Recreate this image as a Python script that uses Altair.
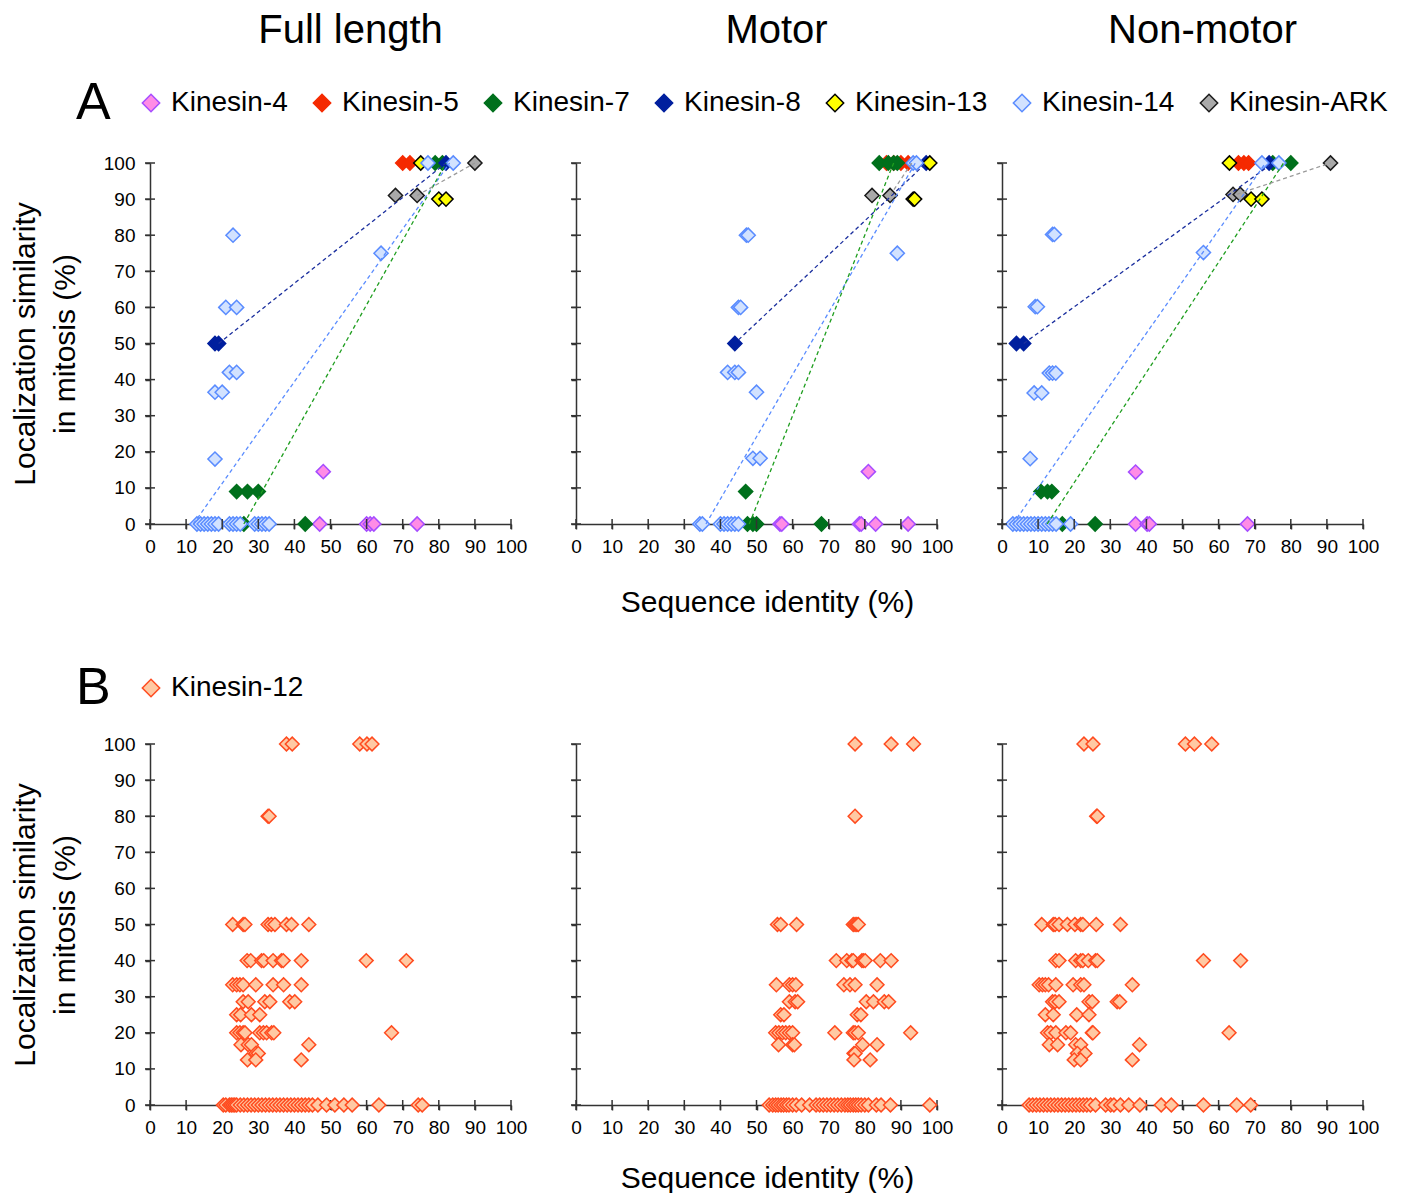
import altair as alt
import pandas as pd

FONT = "Liberation Sans"

FAMILIES = ["Kinesin-4", "Kinesin-5", "Kinesin-7", "Kinesin-8", "Kinesin-13", "Kinesin-14", "Kinesin-ARK"]
FILL_COLORS = ["#ff8ce6", "#f52a00", "#00701c", "#001f9e", "#ffff00", "#d2e2ff", "#a9a9a9"]
STROKE_COLORS = ["#a64dff", "#f52a00", "#00701c", "#001f9e", "#000000", "#5a8cff", "#1a1a1a"]
LINE_FAMILIES = ["Kinesin-7", "Kinesin-8", "Kinesin-14", "Kinesin-ARK"]
LINE_COLORS = ["#1f9e1f", "#1b2f9e", "#5a8cff", "#9a9a9a"]
K12 = ["Kinesin-12"]
K12_FILL = ["#ffc9a3"]
K12_STROKE = ["#ff4b1f"]

TICKS = [0, 10, 20, 30, 40, 50, 60, 70, 80, 90, 100]
COLUMN_TITLES = ["Full length", "Motor", "Non-motor"]
X_TITLE = "Sequence identity (%)"
Y_TITLE = ["Localization similarity", "in mitosis (%)"]

# ---------- Panel A: (sequence identity, localization similarity) ----------
A_FULL = {
    "Kinesin-4": [(48, 14.5), (47, 0), (60, 0), (61, 0), (62, 0), (74, 0)],
    "Kinesin-5": [(70, 100), (72, 100)],
    "Kinesin-7": [(79, 100), (81, 100), (24, 9), (27, 9), (30, 9), (26, 0), (43, 0)],
    "Kinesin-8": [(18, 50), (19, 50), (82, 100)],
    "Kinesin-13": [(75, 100), (80, 90), (82, 90)],
    "Kinesin-14": [(23, 80), (21, 60), (24, 60), (22, 42), (24, 42), (18, 36.5), (20, 36.5),
                   (18, 18), (64, 75), (77, 100), (84, 100),
                   (13, 0), (14, 0), (15, 0), (16, 0), (17, 0), (18, 0), (19, 0),
                   (22, 0), (23, 0), (24, 0), (25, 0),
                   (29, 0), (30, 0), (31, 0), (32, 0), (33, 0)],
    "Kinesin-ARK": [(90, 100), (68, 91), (74, 91)],
}
A_MOTOR = {
    "Kinesin-4": [(81, 14.5), (56.5, 0), (57, 0), (78.5, 0), (79, 0), (83, 0), (92, 0)],
    "Kinesin-5": [(86, 100), (88, 100), (90, 100), (92, 100)],
    "Kinesin-7": [(84, 100), (86.5, 100), (88, 100), (89, 100), (47, 9), (47.5, 0), (49, 0), (50, 0), (68, 0)],
    "Kinesin-8": [(44, 50), (97, 100)],
    "Kinesin-13": [(98, 100), (93.4, 90), (93.8, 90)],
    "Kinesin-14": [(47.2, 80), (47.7, 80), (45, 60), (45.6, 60), (42, 42), (44, 42), (45, 42),
                   (50, 36.5), (49, 18.2), (51, 18.2), (89, 75), (93.4, 100), (94.3, 100),
                   (34.3, 0), (35, 0), (40, 0), (41, 0), (42, 0), (43, 0), (44, 0), (45, 0)],
    "Kinesin-ARK": [(82, 91), (87, 91)],
}
A_NONMOTOR = {
    "Kinesin-4": [(37, 14.4), (37, 0), (40.2, 0), (40.8, 0), (68, 0)],
    "Kinesin-5": [(65.5, 100), (67, 100), (68.3, 100)],
    "Kinesin-7": [(75, 100), (80, 100), (10.8, 9), (12.6, 9), (13.8, 9), (16.7, 0), (25.8, 0)],
    "Kinesin-8": [(4, 50), (6, 50), (74, 100)],
    "Kinesin-13": [(63, 100), (69, 90), (72, 90)],
    "Kinesin-14": [(14, 80.2), (14.5, 80.2), (9.2, 60.2), (9.8, 60.2), (13.1, 41.8), (14, 41.8),
                   (14.9, 41.8), (8.9, 36.3), (11, 36.3), (7.8, 18.1), (55.8, 75.2), (72, 100),
                   (76.7, 100),
                   (3, 0), (4, 0), (5, 0), (6, 0), (7, 0), (8, 0), (9, 0), (10, 0), (11, 0),
                   (12, 0), (13, 0), (14, 0), (15, 0), (19, 0)],
    "Kinesin-ARK": [(91, 100), (64, 91.3), (66, 91.3)],
}
# dashed segments: family, x1, y1, x2, y2
A_FULL_LINES = [("Kinesin-8", 19, 50, 82, 100), ("Kinesin-14", 12, 0, 83, 100),
                ("Kinesin-7", 26, 0, 82, 100), ("Kinesin-ARK", 90, 100, 74, 91)]
A_MOTOR_LINES = [("Kinesin-8", 45, 51, 97, 100), ("Kinesin-14", 36, 0, 94, 100),
                 ("Kinesin-7", 48, 0, 88, 100), ("Kinesin-ARK", 87, 91, 93, 100)]
A_NONMOTOR_LINES = [("Kinesin-8", 6, 50, 75, 100), ("Kinesin-14", 3, 0, 73, 100),
                    ("Kinesin-7", 12.5, 0, 78, 100), ("Kinesin-ARK", 91, 100, 65, 91.3)]

# ---------- Panel B: Kinesin-12, similarity level -> sequence identities ----------
B_FULL = {
    100: [37.8, 39.4, 58.1, 60.1, 61.5],
    80: [32.7, 33],
    50: [22.9, 25.8, 26.3, 32.7, 33.6, 34.6, 37.8, 39.2, 44],
    40: [26.9, 27.9, 30.9, 31.5, 34.1, 36.4, 36.9, 41.9, 59.9, 71],
    33.3: [22.9, 24, 24.9, 25.8, 29.3, 34.1, 37, 41.9],
    28.6: [25.8, 27.2, 31.8, 33.2, 38.7, 40.1],
    25: [24, 25.1, 28.1, 30.4],
    20: [24, 24.9, 25.8, 26.3, 30.4, 31.4, 32.3, 33.7, 34.3, 66.9],
    16.7: [25.2, 27.2, 28.1, 44],
    14.3: [29.3, 30],
    12.5: [27, 29.3, 41.9],
    0: [20.3, 21, 22, 22.5, 23, 23.5, 24, 25, 26, 27, 28, 29, 30, 31, 32, 33, 34, 35, 36, 37,
        38, 39, 40, 41, 42, 43, 44, 45, 46.5, 48.9, 51.2, 53.7, 56, 63.4, 74.3, 75.4],
}
B_MOTOR = {
    100: [77.3, 87.3, 93.5],
    80: [77.3],
    50: [55.8, 56.7, 61.1, 76.8, 77.3, 77.8, 78.2],
    40: [72.1, 75, 76.4, 76.8, 79.2, 79.6, 80.1, 84.3, 87.3],
    33.3: [55.5, 59.1, 60, 60.9, 74.2, 75.9, 77.3, 83.4],
    28.6: [59.1, 60.7, 61.4, 80.4, 82.4, 85.4, 86.6],
    25: [56.7, 57.6, 77.9, 78.9],
    20: [55.3, 56.2, 57.2, 58.1, 59.1, 60, 71.7, 76.8, 77.3, 78.2, 92.7],
    16.7: [56.1, 60, 60.5, 79.4, 83.4],
    14.3: [77, 77.3],
    12.5: [77, 81.5],
    0: [53.5, 54.5, 55.3, 56, 56.8, 57.5, 58.3, 59, 60, 61, 62.5, 64.7, 66.5, 67.5, 68.5, 69.5,
        70.5, 71.5, 72.5, 73.5, 74.5, 75.3, 76, 76.8, 77.5, 78.2, 79, 80, 81, 83.2, 84.5, 87.1, 98],
}
B_NONMOTOR = {
    100: [22.7, 25.2, 50.8, 53.3, 58.1],
    80: [26.2, 26.4],
    50: [11, 14.2, 14.7, 15.8, 18.1, 20.2, 21.8, 22.4, 26.1, 32.8],
    40: [14.9, 15.8, 20.4, 21.8, 22.4, 23.9, 25.9, 26.4, 55.8, 66.1],
    33.3: [10.3, 11.2, 12, 12.9, 14.9, 19.7, 21.8, 22.7, 36.1],
    28.6: [14, 14.7, 15.8, 24.1, 25, 31.9, 32.6],
    25: [12, 14.2, 20.7, 24.1],
    20: [12.6, 13.5, 14.9, 17.7, 19, 25, 25.2, 62.9],
    16.7: [13.1, 15.4, 20.4, 21.8, 38.1],
    14.3: [20.9, 23],
    12.5: [20, 21.8, 36.1],
    0: [7.5, 8.5, 9.5, 10.5, 11.5, 12.5, 13.5, 14.5, 15.5, 16.5, 17.5, 18.5, 19.5, 20.5, 21.5,
        22.5, 23.5, 24.5, 25.9, 28.7, 30.1, 31, 32.8, 35.1, 38.2, 44.1, 46.9, 55.8, 65, 68.9],
}

W, H = 361, 361
AXIS_COLOR = "#333333"


def df_a(d):
    rows = []
    for fam in FAMILIES:
        for x, y in d.get(fam, []):
            rows.append({"x": x, "y": y, "family": fam})
    return pd.DataFrame(rows)


def df_lines(segs):
    rows = []
    for i, (fam, x1, y1, x2, y2) in enumerate(segs):
        rows.append({"x": x1, "y": y1, "family": fam, "seg": i})
        rows.append({"x": x2, "y": y2, "family": fam, "seg": i})
    return pd.DataFrame(rows)


def df_b(d):
    rows = []
    for y, xs in d.items():
        for x in xs:
            rows.append({"x": x, "y": y, "family": "Kinesin-12"})
    return pd.DataFrame(rows)


TICK_DF = pd.DataFrame({"x": TICKS, "y": TICKS})
SCALE = alt.Scale(domain=[0, 100], nice=False, zero=False)


def x_axis(with_title, title_y):
    kw = dict(values=TICKS, labelFontSize=19, labelFont=FONT, labelColor="black",
              tickSize=5, tickWidth=1.5, tickColor=AXIS_COLOR, domainColor=AXIS_COLOR,
              domainWidth=1.5, labelPadding=8, grid=False, labelFlush=False, labelOverlap=False)
    if with_title:
        kw.update(title=X_TITLE, titleFontSize=30, titleFont=FONT, titleFontWeight="normal",
                  titleColor="black", titleX=191, titleY=title_y, titleBaseline="alphabetic",
                  titleAlign="center")
    else:
        kw.update(title=None)
    return alt.Axis(**kw)


def y_axis(with_labels):
    kw = dict(values=TICKS, labelFontSize=19, labelFont=FONT, labelColor="black",
              tickSize=5, tickWidth=1.5, tickColor=AXIS_COLOR, domainColor=AXIS_COLOR,
              domainWidth=1.5, labelPadding=10, grid=False, labelFlush=False, labelOverlap=False)
    if with_labels:
        kw.update(title=Y_TITLE, titleFontSize=30, titleFont=FONT, titleFontWeight="normal",
                  titleColor="black", titleLineHeight=40, titleAngle=270, titleX=-116,
                  titleY=H / 2, titleAlign="center", titleBaseline="alphabetic")
    else:
        kw.update(labels=False, title=None)
    return alt.Axis(**kw)


def legend(letter, legend_y):
    return alt.Legend(title=letter, orient="none", legendX=-74, legendY=legend_y,
                      direction="horizontal", titleOrient="left", titleFontSize=52,
                      titleFont=FONT, titleFontWeight="normal", titleColor="black",
                      titlePadding=26, titleBaseline="middle", labelFontSize=28, labelFont=FONT,
                      labelColor="black", labelOffset=6, labelLimit=400, symbolSize=300,
                      symbolStrokeWidth=1.5, symbolType="diamond", columnPadding=20)


def points(df, fams, fills, strokes, col, row_letter, legend_y, size, title_y):
    fill_kw = dict(scale=alt.Scale(domain=fams, range=fills))
    stroke_kw = dict(scale=alt.Scale(domain=fams, range=strokes))
    if col == 0:
        fill_kw["legend"] = legend(row_letter, legend_y)
        stroke_kw["legend"] = legend(row_letter, legend_y)
    else:
        fill_kw["legend"] = None
        stroke_kw["legend"] = None
    return alt.Chart(df).mark_point(shape="diamond", filled=True, size=size, strokeWidth=1.5,
                                    opacity=1).encode(
        x=alt.X("x:Q", scale=SCALE, axis=x_axis(col == 1, title_y)),
        y=alt.Y("y:Q", scale=SCALE, axis=y_axis(col == 0)),
        fill=alt.Fill("family:N", **fill_kw),
        stroke=alt.Stroke("family:N", **stroke_kw),
    )


def y_ticks(col):
    # inner half of the crossing tick marks on the y axis
    return alt.Chart(TICK_DF).mark_tick(orient="horizontal", size=10, thickness=1.5,
                                        color=AXIS_COLOR, opacity=1).encode(
        x=alt.value(0),
        y=alt.Y("y:Q", scale=SCALE, axis=y_axis(col == 0)),
    )


def x_ticks(axis):
    enc = dict(x=alt.X("x:Q", scale=SCALE, axis=axis), y=alt.value(H))
    return alt.Chart(TICK_DF).mark_tick(orient="vertical", size=10, thickness=1.5,
                                        color=AXIS_COLOR, opacity=1).encode(**enc)


def lines(df, col):
    top_axis = alt.Axis(orient="top", title=COLUMN_TITLES[col], titleFontSize=40, titleFont=FONT,
                        titleFontWeight="normal", titleColor="black", titleX=200, titleY=-121,
                        titleBaseline="alphabetic", titleAlign="center", domain=False,
                        ticks=False, labels=False, grid=False)
    return alt.Chart(df).mark_line(strokeDash=[4, 3], strokeWidth=1.3).encode(
        x=alt.X("x:Q", scale=SCALE, axis=top_axis),
        y=alt.Y("y:Q", scale=SCALE, axis=y_axis(col == 0)),
        color=alt.Color("family:N", scale=alt.Scale(domain=LINE_FAMILIES, range=LINE_COLORS),
                        legend=None),
        detail="seg:N",
    )


panels = []
for col, (pts, segs) in enumerate([(A_FULL, A_FULL_LINES), (A_MOTOR, A_MOTOR_LINES),
                                   (A_NONMOTOR, A_NONMOTOR_LINES)]):
    p = alt.layer(
        points(df_a(pts), FAMILIES, FILL_COLORS, STROKE_COLORS, col, "A", -74, 200, 87),
        lines(df_lines(segs), col),
        x_ticks(None),
        y_ticks(col),
    ).resolve_axis(x="independent").properties(width=W, height=H)
    panels.append(p)
for col, pts in enumerate([B_FULL, B_MOTOR, B_NONMOTOR]):
    p = alt.layer(
        x_ticks(x_axis(col == 1, 82)),
        y_ticks(col),
        points(df_b(pts), K12, K12_FILL, K12_STROKE, col, "B", -70, 190, 82),
    ).properties(width=W, height=H)
    panels.append(p)

chart = alt.concat(*panels, columns=3, spacing={"row": 220, "column": 65},
                   bounds="flush").resolve_scale(
    fill="independent", stroke="independent", color="independent"
).properties(padding={"left": 2, "top": 2, "right": 0, "bottom": 0}).configure_view(stroke=None)

chart.save("out.html", embed_options={"renderer": "svg", "actions": False})
